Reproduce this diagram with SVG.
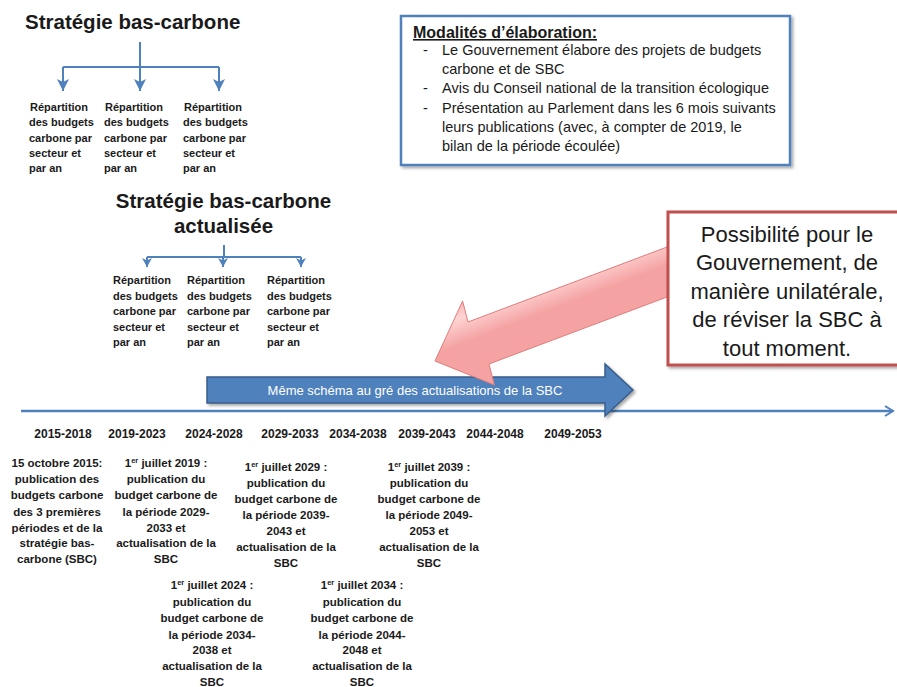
<svg xmlns="http://www.w3.org/2000/svg" width="897" height="687" viewBox="0 0 897 687">
<defs>
<style>
.t{font-family:"Liberation Sans",Arial,sans-serif;fill:#1a1a1a}
.title{font-size:20.5px;font-weight:bold}
.rep{font-size:11px;font-weight:bold}
.yr{font-size:12px;font-weight:bold;text-anchor:middle}
.blk{font-size:11.5px;font-weight:bold;text-anchor:middle}
.mod{font-size:14.5px}
.red{font-size:22px;text-anchor:middle}
.conn{stroke:#4F81BD;stroke-width:2;fill:none}
</style>
<marker id="tri" markerUnits="userSpaceOnUse" markerWidth="13" markerHeight="12" refX="12" refY="6" orient="auto" viewBox="0 0 13 12">
<path d="M0,0 L12,6 L0,12 L3,6 z" fill="#4F81BD"/>
</marker>
<marker id="tri2" markerUnits="userSpaceOnUse" markerWidth="10" markerHeight="10" refX="9" refY="5" orient="auto" viewBox="0 0 10 10">
<path d="M0,0 L9,5 L0,10 L2.5,5 z" fill="#4F81BD"/>
</marker>
<marker id="open" markerUnits="userSpaceOnUse" markerWidth="12" markerHeight="12" refX="9" refY="6" orient="auto" viewBox="0 0 12 12">
<path d="M1,1 L9,6 L1,11" fill="none" stroke="#4F81BD" stroke-width="2"/>
</marker>
<filter id="sh" x="-10%" y="-10%" width="130%" height="130%">
<feDropShadow dx="2" dy="2" stdDeviation="1.5" flood-color="#000" flood-opacity="0.35"/>
</filter>
<linearGradient id="pink" gradientUnits="userSpaceOnUse" x1="580" y1="245" x2="598" y2="292">
<stop offset="0" stop-color="#F4A2A2"/>
<stop offset="0.5" stop-color="#FFD3D3"/>
<stop offset="1" stop-color="#F4A2A2"/>
</linearGradient>
</defs>
<rect width="897" height="687" fill="#fff"/>

<g id="connectors">
<path class="conn" d="M140,42 V67 M63,67 H219"/>
<line class="conn" x1="63" y1="67" x2="63" y2="91" marker-end="url(#tri)"/>
<line class="conn" x1="140" y1="67" x2="140" y2="91" marker-end="url(#tri)"/>
<line class="conn" x1="219" y1="67" x2="219" y2="91" marker-end="url(#tri)"/>
<path class="conn" d="M224,245 V257 M147,257 H301"/>
<line class="conn" x1="147" y1="257" x2="147" y2="267" marker-end="url(#tri2)"/>
<line class="conn" x1="223" y1="257" x2="223" y2="267" marker-end="url(#tri2)"/>
<line class="conn" x1="301" y1="257" x2="301" y2="267" marker-end="url(#tri2)"/>
<line x1="21" y1="411" x2="893" y2="411" stroke="#4F81BD" stroke-width="2.5" marker-end="url(#open)"/>
</g>

<g id="sbc1">
<text class="t title" x="25" y="29">Stratégie bas-carbone</text>
</g>
<g id="rep1a" class="t rep">
<text x="30" y="111">Répartition</text><text x="29" y="126.3">des budgets</text><text x="29" y="141.6">carbone par</text><text x="29" y="156.9">secteur et</text><text x="29" y="172.2">par an</text>
</g>
<g id="rep1b" class="t rep">
<text x="105" y="111">Répartition</text><text x="104" y="126.3">des budgets</text><text x="104" y="141.6">carbone par</text><text x="104" y="156.9">secteur et</text><text x="104" y="172.2">par an</text>
</g>
<g id="rep1c" class="t rep">
<text x="184" y="111">Répartition</text><text x="183" y="126.3">des budgets</text><text x="183" y="141.6">carbone par</text><text x="183" y="156.9">secteur et</text><text x="183" y="172.2">par an</text>
</g>

<g id="sbc2">
<text class="t title" x="223.5" y="208" text-anchor="middle">Stratégie bas-carbone</text>
<text class="t title" x="223.5" y="233" text-anchor="middle">actualisée</text>
</g>
<g id="rep2a" class="t rep">
<text x="113" y="284">Répartition</text><text x="113" y="299.5">des budgets</text><text x="113" y="315">carbone par</text><text x="113" y="330.5">secteur et</text><text x="113" y="346">par an</text>
</g>
<g id="rep2b" class="t rep">
<text x="187" y="284">Répartition</text><text x="187" y="299.5">des budgets</text><text x="187" y="315">carbone par</text><text x="187" y="330.5">secteur et</text><text x="187" y="346">par an</text>
</g>
<g id="rep2c" class="t rep">
<text x="267" y="284">Répartition</text><text x="267" y="299.5">des budgets</text><text x="267" y="315">carbone par</text><text x="267" y="330.5">secteur et</text><text x="267" y="346">par an</text>
</g>

<g id="modalites">
<rect x="401" y="16" width="389" height="149" fill="#fff" stroke="#4F81BD" stroke-width="2.5" filter="url(#sh)"/>
<text class="t" x="413" y="38" font-size="16" font-weight="bold" text-decoration="underline">Modalités d’élaboration:</text>
<g class="t mod">
<text x="423" y="55">-</text><text x="442" y="55">Le Gouvernement élabore des projets de budgets</text>
<text x="442" y="74.2">carbone et de SBC</text>
<text x="423" y="93.4">-</text><text x="442" y="93.4">Avis du Conseil national de la transition écologique</text>
<text x="423" y="112.6">-</text><text x="442" y="112.6">Présentation au Parlement dans les 6 mois suivants</text>
<text x="442" y="131.8">leurs publications (avec, à compter de 2019, le</text>
<text x="442" y="151">bilan de la période écoulée)</text>
</g>
</g>

<g id="meme-schema">
<polygon points="207,377 605,377 605,364 633,390 605,416 605,403 207,403" fill="#4F81BD" stroke="#385D8A" stroke-width="1.5" filter="url(#sh)"/>
<text x="415" y="394.5" font-family="Liberation Sans,Arial,sans-serif" font-size="13" fill="#fff" text-anchor="middle">Même schéma au gré des actualisations de la SBC</text>
</g>

<g id="revision-arrow">
<polygon points="700,234.6 468,322 462.6,301 435,361 494.4,385 489,364 700,284.6" fill="url(#pink)" stroke="#E07B7B" stroke-width="1"/>
</g>

<g id="possibilite">
<rect x="668" y="212" width="240" height="153" fill="#fff" stroke="#C0504D" stroke-width="3" filter="url(#sh)"/>
<g class="t red">
<text x="787" y="241.5">Possibilité pour le</text>
<text x="787" y="270">Gouvernement, de</text>
<text x="787" y="298.5">manière unilatérale,</text>
<text x="787" y="327">de réviser la SBC à</text>
<text x="787" y="355.5">tout moment.</text>
</g>
</g>

<g id="years" class="t yr">
<text x="63" y="438">2015-2018</text>
<text x="137" y="438">2019-2023</text>
<text x="214" y="438">2024-2028</text>
<text x="290" y="438">2029-2033</text>
<text x="358" y="438">2034-2038</text>
<text x="427" y="438">2039-2043</text>
<text x="495" y="438">2044-2048</text>
<text x="573" y="438">2049-2053</text>
</g>

<g id="pub2015" class="t blk">
<text x="57" y="467">15 octobre 2015:</text>
<text x="57" y="482.5">publication des</text>
<text x="57" y="499">budgets carbone</text>
<text x="57" y="515.5">des 3 premières</text>
<text x="57" y="531.5">périodes et de la</text>
<text x="57" y="547">stratégie bas-</text>
<text x="57" y="562.5">carbone (SBC)</text>
</g>
<g id="pub2019" class="t blk">
<text x="166" y="467">1<tspan font-size="7.5" dy="-4">er</tspan><tspan dy="4"> juillet 2019 :</tspan></text>
<text x="166" y="482.5">publication du</text>
<text x="166" y="499">budget carbone de</text>
<text x="166" y="515.5">la période 2029-</text>
<text x="166" y="531.5">2033 et</text>
<text x="166" y="547">actualisation de la</text>
<text x="166" y="562.5">SBC</text>
</g>
<g id="pub2029" class="t blk">
<text x="286" y="471">1<tspan font-size="7.5" dy="-4">er</tspan><tspan dy="4"> juillet 2029 :</tspan></text>
<text x="286" y="486.5">publication du</text>
<text x="286" y="502.5">budget carbone de</text>
<text x="286" y="519">la période 2039-</text>
<text x="286" y="535">2043 et</text>
<text x="286" y="551">actualisation de la</text>
<text x="286" y="567">SBC</text>
</g>
<g id="pub2039" class="t blk">
<text x="429" y="471">1<tspan font-size="7.5" dy="-4">er</tspan><tspan dy="4"> juillet 2039 :</tspan></text>
<text x="429" y="486.5">publication du</text>
<text x="429" y="502.5">budget carbone de</text>
<text x="429" y="519">la période 2049-</text>
<text x="429" y="535">2053 et</text>
<text x="429" y="551">actualisation de la</text>
<text x="429" y="567">SBC</text>
</g>
<g id="pub2024" class="t blk">
<text x="212" y="589">1<tspan font-size="7.5" dy="-4">er</tspan><tspan dy="4"> juillet 2024 :</tspan></text>
<text x="212" y="605.5">publication du</text>
<text x="212" y="622">budget carbone de</text>
<text x="212" y="638.5">la période 2034-</text>
<text x="212" y="654">2038 et</text>
<text x="212" y="670">actualisation de la</text>
<text x="212" y="686">SBC</text>
</g>
<g id="pub2034" class="t blk">
<text x="362" y="589">1<tspan font-size="7.5" dy="-4">er</tspan><tspan dy="4"> juillet 2034 :</tspan></text>
<text x="362" y="605.5">publication du</text>
<text x="362" y="622">budget carbone de</text>
<text x="362" y="638.5">la période 2044-</text>
<text x="362" y="654">2048 et</text>
<text x="362" y="670">actualisation de la</text>
<text x="362" y="686">SBC</text>
</g>
</svg>
